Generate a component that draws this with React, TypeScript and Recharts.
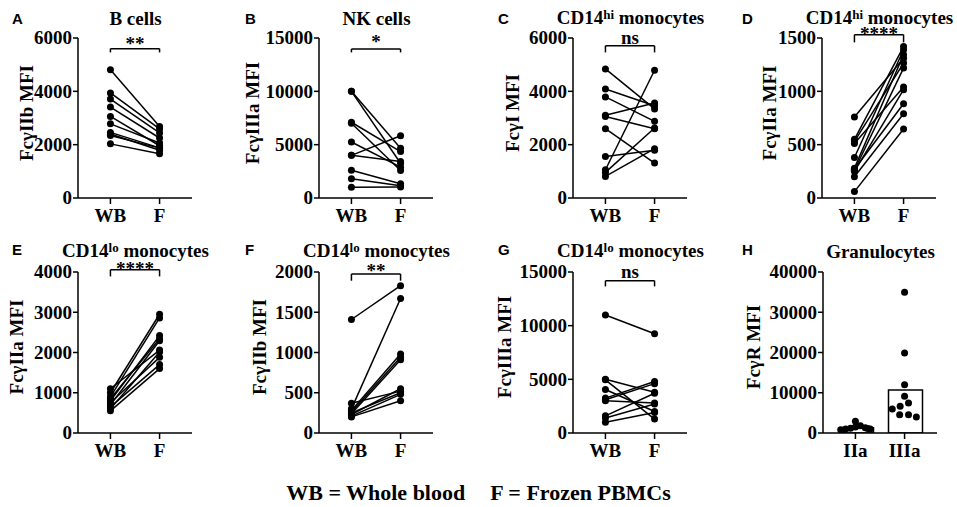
import React from 'react';
import { ComposedChart, Line, XAxis, YAxis, ReferenceLine, Bar, Scatter } from 'recharts';

// categories
const PAIR_GROUPS = ['WB', 'F'];
const GRAN_GROUPS = ['IIa', 'IIIa'];

// A: B cells, FcγIIb
const bCellWB = [4810, 3940, 3710, 3410, 3060, 2780, 2460, 2400, 2340, 2030];
const bCellF = [2680, 2590, 2440, 2250, 1960, 2060, 1880, 1790, 1870, 1660];
// B: NK cells, FcγIIIa
const nkWB = [10000, 10000, 7100, 7000, 5250, 4000, 4000, 2600, 1800, 1000];
const nkF = [4660, 3260, 4350, 2580, 2890, 5840, 3420, 1335, 1150, 1025];
// C: CD14hi monocytes, FcγI
const hiFc1WB = [4840, 4090, 3790, 3100, 3060, 2600, 1560, 1060, 960, 810];
const hiFc1F = [3340, 3460, 2875, 3560, 2600, 1310, 1790, 4790, 2625, 1850];
// D: CD14hi monocytes, FcγIIa
const hiFc2aWB = [760, 550, 530, 510, 380, 280, 270, 260, 250, 200, 60];
const hiFc2aF = [1310, 1420, 1265, 1040, 1390, 1343, 884, 1218, 1015, 790, 647];
// E: CD14lo monocytes, FcγIIa
const loFc2aWB = [1100, 1000, 900, 850, 800, 750, 700, 650, 600, 550];
const loFc2aF = [2060, 2950, 2860, 2340, 2420, 1880, 2290, 1700, 2010, 1600];
// F: CD14lo monocytes, FcγIIb
const loFc2bWB = [1410, 370, 300, 280, 260, 240, 230, 210, 200, 250];
const loFc2bF = [1830, 520, 1670, 980, 940, 910, 550, 480, 400, 500];
// G: CD14lo monocytes, FcγIIIa
const loFc3aWB = [11000, 5000, 4950, 4050, 3250, 3000, 3100, 1600, 1400, 1000];
const loFc3aF = [9250, 3800, 1300, 2000, 4800, 2800, 4600, 3700, 2700, 1900];
// H: granulocytes
const granMeans = [1300, 10700];
const granIIa = [800, 1000, 1200, 1500, 2900, 1800, 1300, 1000, 700, 1100];
const granIIaX = [-0.3, -0.2, -0.1, 0, 0, 0.1, 0.2, 0.3, -0.25, 0.25];
const granIIIa = [35000, 19900, 12000, 9100, 7450, 6620, 5960, 4550, 4550, 3970];
const granIIIaX = [1, 1, 1, 1, 1.08, 0.91, 0.75, 0.9, 1.08, 1.24];

// significance brackets: [level, tip, text]
const bracketA = [5600, 5460, '**'];
const bracketB = [13970, 13650, '*'];
const bracketC = [5710, 5460, 'ns'];
const bracketD = [1531, 1459, '****'];
const bracketE = [4057, 3891, '****'];
const bracketF = [1975, 1892, '**'];
const bracketG = [14190, 13660, 'ns'];

const SERIF = "'Liberation Serif', 'Times New Roman', serif";
const SANS = "'Liberation Sans', Arial, sans-serif";
const Y_W = 75;
const PLOT_W = 114;
const X_DOMAIN = [-0.66, 1.66];
const ROWS = [
  { top: 38.3, h: 160, letterTop: 10.5, titleY: 17.5 },
  { top: 272.3, h: 161, letterTop: 241.5, titleY: 250.5 },
];

const axisStyle = { stroke: '#000', strokeWidth: 1.5 };
const textStyle = { fontFamily: SERIF, fontWeight: 'bold' as const, fontSize: 19 };

const sup = (s: string) => (
  <span style={{ fontSize: 13, position: 'relative', top: -5 }}>{s}</span>
);

const panels = [
  { letter: 'A', title: <>B cells</>, yLabel: 'FcγIIb MFI', left: 78, row: 0, labelX: 26, yMax: 6000, yStep: 2000, wb: bCellWB, f: bCellF, br: bracketA, brOff: -1 },
  { letter: 'B', title: <>NK cells</>, yLabel: 'FcγIIIa MFI', left: 319, row: 0, labelX: 252, yMax: 15000, yStep: 5000, wb: nkWB, f: nkF, br: bracketB, brOff: 1 },
  { letter: 'C', title: <>CD14{sup('hi')} monocytes</>, yLabel: 'FcγI MFI', left: 573, row: 0, labelX: 512, yMax: 6000, yStep: 2000, wb: hiFc1WB, f: hiFc1F, br: bracketC, brOff: 2 },
  { letter: 'D', title: <>CD14{sup('hi')} monocytes</>, yLabel: 'FcγIIa MFI', left: 822, row: 0, labelX: 769, yMax: 1500, yStep: 500, wb: hiFc2aWB, f: hiFc2aF, br: bracketD, brOff: -5 },
  { letter: 'E', title: <>CD14{sup('lo')} monocytes</>, yLabel: 'FcγIIa MFI', left: 78, row: 1, labelX: 16, yMax: 4000, yStep: 1000, wb: loFc2aWB, f: loFc2aF, br: bracketE, brOff: -5 },
  { letter: 'F', title: <>CD14{sup('lo')} monocytes</>, yLabel: 'FcγIIb MFI', left: 319, row: 1, labelX: 259, yMax: 2000, yStep: 500, wb: loFc2bWB, f: loFc2bF, br: bracketF, brOff: -3 },
  { letter: 'G', title: <>CD14{sup('lo')} monocytes</>, yLabel: 'FcγIIIa MFI', left: 573, row: 1, labelX: 504, yMax: 15000, yStep: 5000, wb: loFc3aWB, f: loFc3aF, br: bracketG, brOff: 3 },
];

const letterPos = [12, 245, 498, 742];

const makeTicks = (max: number, step: number) => {
  const t: number[] = [];
  for (let v = 0; v <= max; v += step) t.push(v);
  return t;
};

const dotCircle = (props: any) => (
  <circle cx={props.cx} cy={props.cy} r={3.5} fill="#000" />
);

const yTick = (props: any) => (
  <text x={props.x} y={props.y} dy="0.34em" textAnchor="end" fill="#000" style={textStyle}>
    {props.payload.value}
  </text>
);

const xTick = (labels: string[]) => (props: any) => (
  <text x={props.x} y={props.y} dy="0.72em" textAnchor="middle" fill="#000" style={textStyle}>
    {labels[props.payload.value]}
  </text>
);

const starLabel = (text: string, off: number) => (props: any) => {
  const vb = props.viewBox;
  return (
    <text x={vb.x + vb.width / 2} y={vb.y - off} textAnchor="middle" fill="#000" style={textStyle}>
      {text}
    </text>
  );
};

function Frame({ letter, title, yLabel, left, row, labelX, col }: any) {
  const r = ROWS[row];
  return (
    <>
      <div style={{ position: 'absolute', left: letterPos[col], top: r.letterTop, fontFamily: SANS, fontWeight: 'bold', fontSize: 15, lineHeight: '15px' }}>
        {letter}
      </div>
      <div style={{ position: 'absolute', left: left + 57.5, top: r.titleY, transform: 'translate(-50%, -50%)', whiteSpace: 'nowrap', ...textStyle, lineHeight: '19px' }}>
        {title}
      </div>
      <div style={{ position: 'absolute', left: labelX, top: r.top + r.h / 2 - 5.5, transform: 'translate(-50%, -50%) rotate(-90deg)', whiteSpace: 'nowrap', ...textStyle, lineHeight: '19px' }}>
        {yLabel}
      </div>
    </>
  );
}

function PairPanel({ p, col }: any) {
  const r = ROWS[p.row];
  const data = PAIR_GROUPS.map((g, i) => {
    const src = i === 0 ? p.wb : p.f;
    const row: any = { x: i, group: g };
    src.forEach((v: number, k: number) => { row['d' + k] = v; });
    return row;
  });
  const [level, tip, text] = p.br;
  return (
    <>
      <div style={{ position: 'absolute', left: p.left - Y_W, top: r.top - 20 }}>
        <ComposedChart width={Y_W + PLOT_W + 2} height={20 + r.h + 30} data={data} margin={{ top: 20, right: 2, bottom: 0, left: 0 }}>
          <XAxis type="number" dataKey="x" domain={X_DOMAIN} ticks={[0, 1]} allowDataOverflow axisLine={axisStyle} tickLine={axisStyle} tick={xTick(PAIR_GROUPS)} tickSize={6} tickMargin={4} height={30} />
          <YAxis type="number" domain={[0, p.yMax]} ticks={makeTicks(p.yMax, p.yStep)} interval={0} allowDataOverflow width={Y_W} axisLine={axisStyle} tickLine={axisStyle} tick={yTick} tickSize={5} tickMargin={1} />
          {p.wb.map((_: number, k: number) => (
            <Line key={k} type="linear" dataKey={'d' + k} stroke="#000" strokeWidth={1.5} dot={dotCircle} activeDot={false} isAnimationActive={false} />
          ))}
          <ReferenceLine segment={[{ x: 0, y: level }, { x: 1, y: level }]} stroke="#000" strokeWidth={1.5} ifOverflow="visible"
            label={starLabel(text, p.brOff)} />
          <ReferenceLine segment={[{ x: 0, y: level }, { x: 0, y: tip }]} stroke="#000" strokeWidth={1.5} ifOverflow="visible" />
          <ReferenceLine segment={[{ x: 1, y: level }, { x: 1, y: tip }]} stroke="#000" strokeWidth={1.5} ifOverflow="visible" />
        </ComposedChart>
      </div>
      <Frame {...p} col={col} />
    </>
  );
}

function GranPanel() {
  const r = ROWS[1];
  const left = 823;
  const barData = GRAN_GROUPS.map((g, i) => ({ x: i, group: g, mean: granMeans[i] }));
  const iia = granIIa.map((v, k) => ({ x: granIIaX[k], y: v }));
  const iiia = granIIIa.map((v, k) => ({ x: granIIIaX[k], y: v }));
  return (
    <>
      <div style={{ position: 'absolute', left: left - Y_W, top: r.top - 20 }}>
        <ComposedChart width={Y_W + PLOT_W + 2} height={20 + r.h + 30} data={barData} margin={{ top: 20, right: 2, bottom: 0, left: 0 }}>
          <XAxis type="number" dataKey="x" domain={X_DOMAIN} ticks={[0, 1]} allowDataOverflow axisLine={axisStyle} tickLine={axisStyle} tick={xTick(GRAN_GROUPS)} tickSize={6} tickMargin={4} height={30} />
          <XAxis xAxisId="cat" type="category" dataKey="group" hide padding={{ left: 8.5, right: 7.5 }} height={30} />
          <YAxis type="number" domain={[0, 40000]} ticks={makeTicks(40000, 10000)} interval={0} allowDataOverflow width={Y_W} axisLine={axisStyle} tickLine={axisStyle} tick={yTick} tickSize={5} tickMargin={1} />
          <Bar xAxisId="cat" dataKey="mean" barSize={34} fill="#fff" stroke="#000" strokeWidth={1.5} isAnimationActive={false} />
          <Scatter data={iia} dataKey="y" shape={dotCircle} isAnimationActive={false} />
          <Scatter data={iiia} dataKey="y" shape={dotCircle} isAnimationActive={false} />
        </ComposedChart>
      </div>
      <Frame letter="H" title={<>Granulocytes</>} yLabel="FcγR MFI" left={left} row={1} labelX={753} col={3} />
    </>
  );
}

export default function App() {
  return (
    <div style={{ position: 'absolute', left: 0, top: 0, width: 957, height: 507, background: '#fff', overflow: 'hidden' }}>
      {panels.map((p, i) => (
        <PairPanel key={p.letter} p={p} col={i % 4} />
      ))}
      <GranPanel />
      <div style={{ position: 'absolute', left: 0, top: 481.5, width: 957, textAlign: 'center', fontFamily: SERIF, fontWeight: 'bold', fontSize: 22, lineHeight: '22px', whiteSpace: 'nowrap' }}>
        <span>WB = Whole blood</span>
        <span style={{ marginLeft: 25 }}>F = Frozen PBMCs</span>
      </div>
    </div>
  );
}
